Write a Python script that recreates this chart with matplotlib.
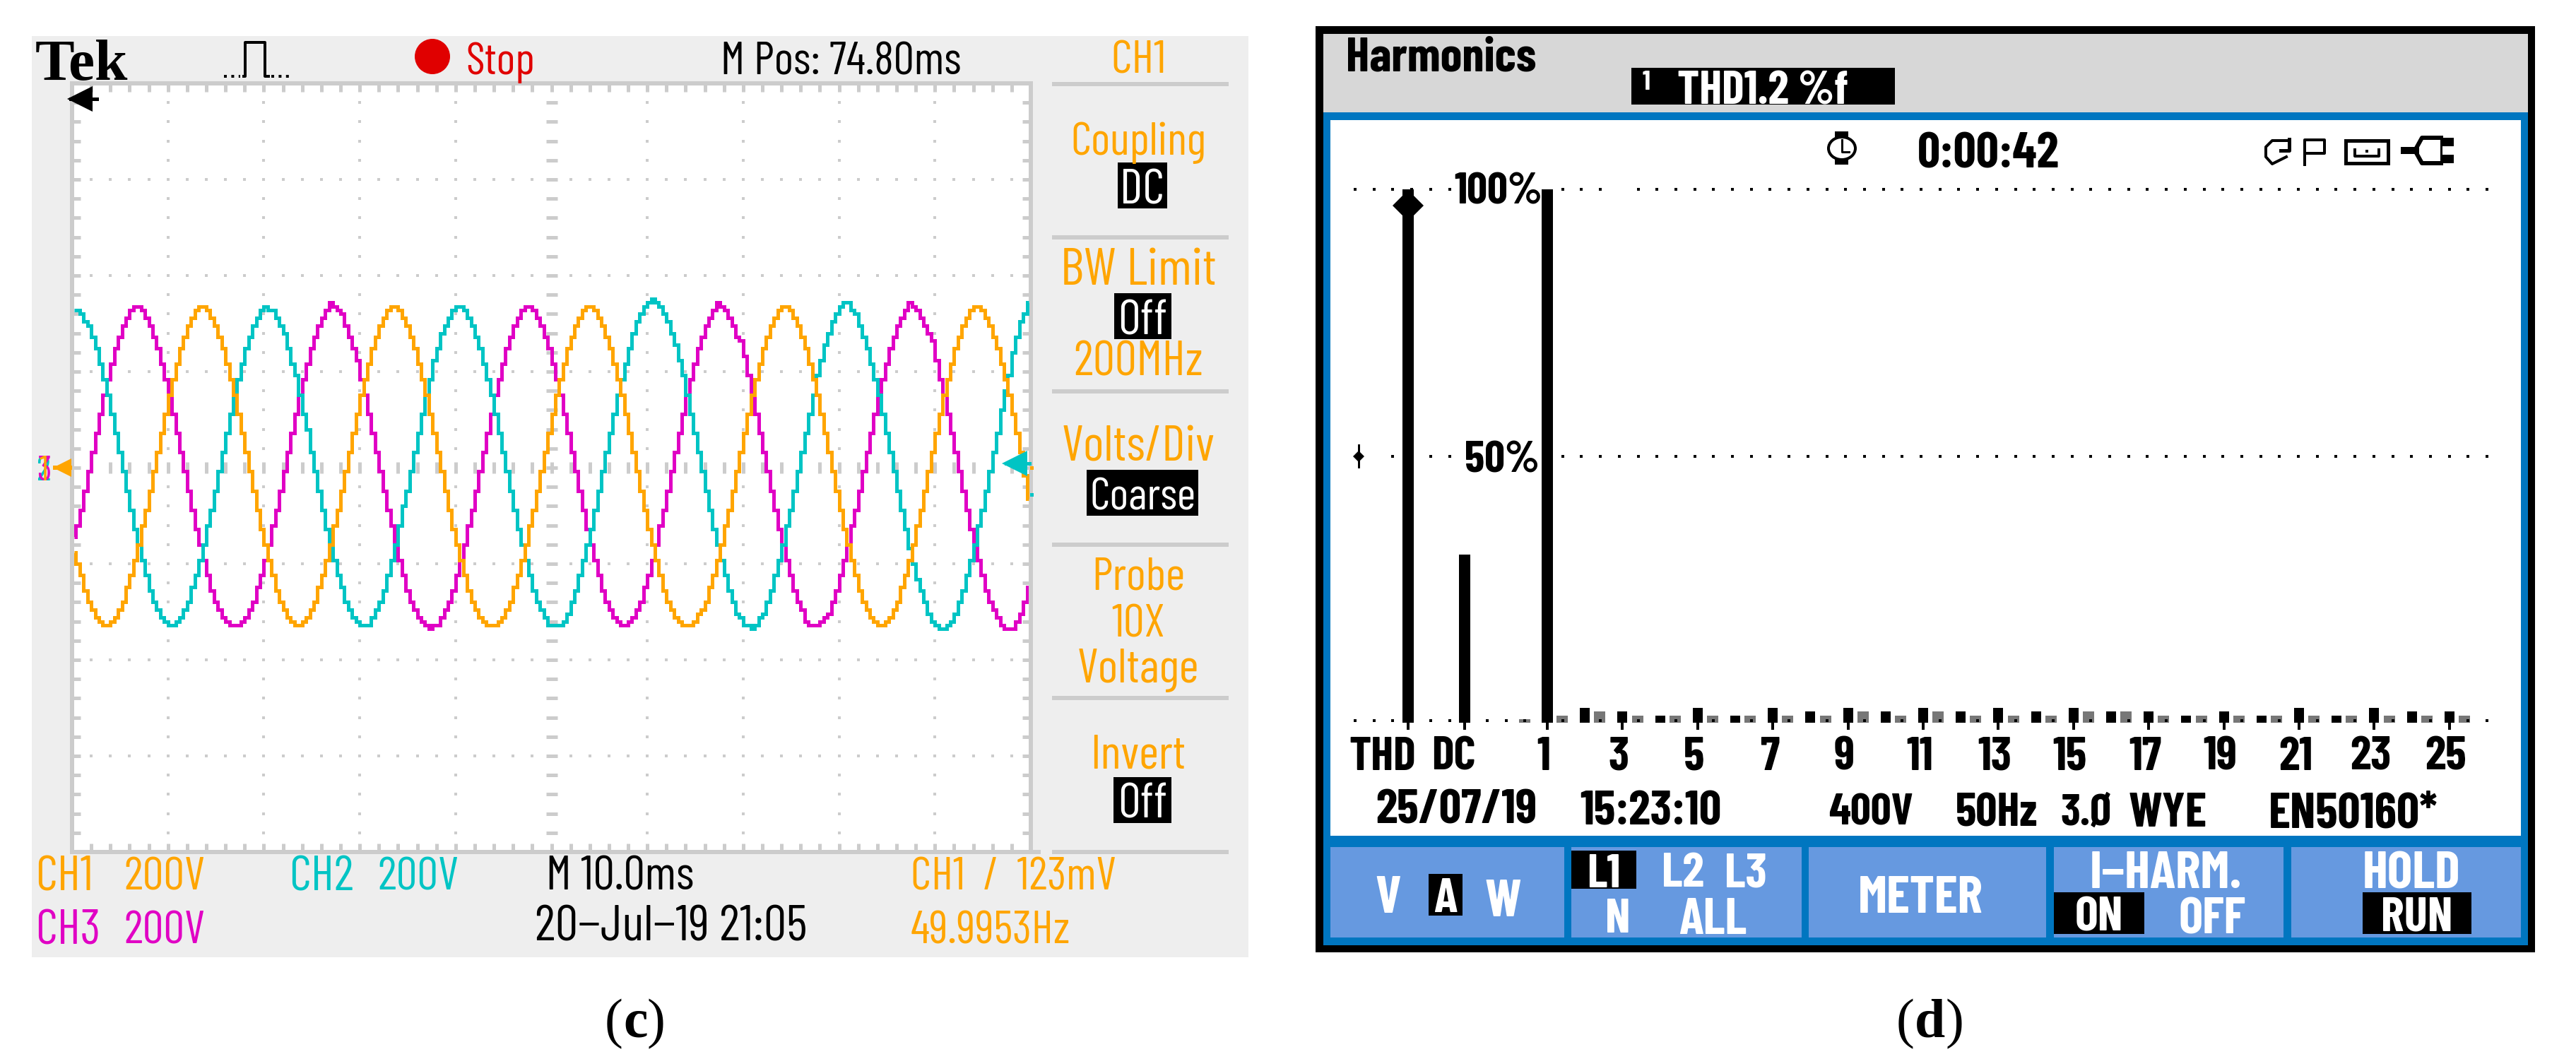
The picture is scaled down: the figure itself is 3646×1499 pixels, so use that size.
import numpy as np
import matplotlib
matplotlib.use("Agg")
import matplotlib.pyplot as plt
from matplotlib.patches import Rectangle, Ellipse
from matplotlib.transforms import ScaledTranslation

# ---------- scope traces: one value per screen column, in screen rows from centre (25 rows = 1 div = 200 V)
CH2_CYAN = [41,41,40,38,37,34,31,27,23,19,14,9,4,-1,-6,-11,-16,-20,-24,-28,-32,-35,-37,-39,-40,-41,-41,-40,-39,-37,-35,-31,-28,-24,-20,-15,-11,-6,-1,4,9,14,19,23,27,31,34,37,39,41,
            42,41,41,39,37,35,31,27,24,19,14,10,4,-1,-6,-11,-16,-20,-24,-28,-31,-35,-37,-39,-40,-41,-41,-41,-39,-37,-35,-32,-28,-24,-20,-15,-10,-6,-1,4,9,14,19,23,28,31,35,37,39,41,
            42,42,41,39,37,34,31,27,23,19,14,9,4,-1,-6,-11,-16,-20,-24,-28,-32,-35,-37,-39,-41,-41,-41,-41,-40,-38,-35,-32,-28,-24,-20,-16,-11,-6,-1,4,9,14,19,23,27,31,35,38,40,42,43,
            44,43,42,40,38,35,32,28,24,19,14,9,4,-1,-6,-11,-16,-20,-24,-28,-32,-35,-38,-39,-41,-41,-42,-41,-39,-38,-35,-32,-28,-24,-20,-15,-11,-6,-1,4,9,14,19,24,28,32,35,38,40,42,
            43,43,41,40,37,34,31,27,23,19,14,9,4,-1,-6,-11,-16,-21,-25,-29,-32,-35,-38,-40,-41,-42,-42,-41,-40,-38,-35,-32,-28,-24,-20,-15,-11,-6,-1,4,9,15,20,24,30,34,38,40,43]
CH3_MAGENTA = [-18,-15,-11,-6,-1,4,9,14,19,23,27,31,34,37,39,41,
               42,42,41,39,37,34,31,27,23,19,14,9,4,-1,-6,-11,-16,-20,-24,-28,-32,-35,-37,-39,-40,-41,-41,-41,-40,-39,-37,-35,-31,-28,-24,-20,-15,-11,-6,-1,4,9,14,19,23,27,31,34,37,39,41,
               43,42,41,40,37,34,31,28,23,19,14,9,4,-1,-6,-11,-15,-20,-24,-28,-32,-35,-37,-39,-40,-41,-42,-41,-41,-39,-37,-35,-32,-28,-24,-20,-15,-11,-6,-1,4,9,14,19,23,27,31,34,37,39,41,
               42,42,41,39,37,34,31,27,23,19,14,9,4,-1,-6,-11,-16,-20,-24,-28,-32,-35,-37,-39,-40,-41,-41,-40,-39,-37,-35,-31,-28,-24,-20,-15,-11,-6,-1,4,9,14,19,23,27,31,34,37,39,41,
               43,42,41,39,37,34,33,29,24,19,14,9,4,-1,-6,-11,-16,-20,-24,-28,-32,-35,-37,-40,-41,-41,-41,-40,-39,-38,-35,-32,-28,-24,-20,-15,-11,-6,-1,4,9,14,19,23,27,31,34,37,39,41,
               43,42,41,39,37,35,33,28,23,19,14,9,4,-1,-6,-11,-16,-20,-24,-28,-32,-35,-37,-39,-41,-42,-42,-42,-40,-38,-35,-31]
CH1_ORANGE = [-22,-25,-28,-32,-35,-37,-39,-40,-41,-41,-40,-39,-37,-35,-31,-28,-24,-20,-15,-11,-6,-1,4,9,14,19,23,27,31,34,37,39,41,
              42,42,41,39,37,34,31,27,23,19,14,9,4,-1,-6,-11,-16,-20,-24,-28,-32,-35,-37,-39,-40,-41,-41,-40,-39,-37,-35,-31,-28,-24,-20,-15,-11,-6,-1,4,9,14,19,23,27,31,34,37,39,41,
              42,42,41,39,37,34,31,27,23,19,14,9,4,-1,-6,-11,-16,-20,-24,-28,-32,-35,-37,-39,-40,-41,-41,-41,-40,-39,-37,-35,-31,-28,-24,-20,-15,-11,-6,-1,4,9,14,19,23,27,31,34,37,39,41,
              42,42,41,39,37,34,31,27,23,19,14,9,4,-1,-6,-11,-16,-20,-24,-28,-32,-35,-37,-39,-40,-41,-41,-41,-40,-38,-37,-35,-31,-28,-24,-20,-15,-11,-6,-1,4,9,14,19,23,27,31,34,37,39,41,
              42,42,41,39,37,34,31,27,23,19,14,9,4,-1,-6,-11,-16,-20,-24,-28,-32,-35,-37,-39,-40,-41,-41,-40,-39,-37,-35,-31,-28,-24,-20,-15,-11,-6,-1,4,9,14,19,23,27,31,34,37,39,41,
              42,42,41,39,37,34,31,27,23,19,14,9,4,-2,-8]

# ---------- harmonics
MAIN_LABELS = ["THD", "DC", "1"]
MAIN_VALUES = [100.0, 31.5, 100.0]
HARM_ORDERS = list(range(2, 26))
HARM_BLACK = [2.8,2.1,1.3,2.8,1.3,2.8,2.1,2.8,2.1,2.8,2.1,2.8,2.1,2.8,2.1,2.1,1.3,2.1,1.3,2.8,1.3,2.8,2.1,2.1]
GRAY_ORDERS = list(range(0, 26))
HARM_GRAY = [0.7,1.3,2.1,1.3,1.3,1.3,1.3,1.3,1.3,2.1,1.3,2.1,1.3,1.3,1.3,2.1,2.1,1.3,1.3,1.3,1.3,1.3,1.3,1.3,1.3,1.3]
TICK_ORDERS = ["THD","DC","1","3","5","7","9","11","13","15","17","19","21","23","25"]

W, H = 3646, 1499
PT = 0.72
ORANGE, CYAN, MAGENTA = "#ffa500", "#00c4c4", "#e000c4"
PANEL, GRID = "#eeeeee", "#cccccc"
BLUE, BTN = "#0076c0", "#6699e0"
NARROW = ["Barlow Condensed", "Archivo Narrow", "Liberation Sans"]

fig = plt.figure(figsize=(W/100, H/100), dpi=100, facecolor="white")


def pixel_axes(z):
    a = fig.add_axes([0, 0, 1, 1], zorder=z)
    a.set_xlim(0, W)
    a.set_ylim(H, 0)
    a.axis("off")
    a.patch.set_alpha(0)
    return a


bg = pixel_axes(0)
fg = pixel_axes(5)


def box(ax, x0, y0, x1, y1, color, **kw):
    ax.add_patch(Rectangle((x0, y0), x1-x0, y1-y0, facecolor=color, edgecolor="none", lw=0, **kw))


def T(x, y, s, color="black", size=47, ha="center", weight="normal", family=NARROW, **kw):
    return fg.text(x, y, s, color=color, fontsize=size, ha=ha, va="center_baseline",
                   fontweight=weight, family=family, **kw)


# ================= panel (c): oscilloscope =================
box(bg, 45, 51, 1767, 1355, PANEL)
sc = fig.add_axes([102/W, 1-1206/H, 1357/W, 1088/H], zorder=1, facecolor="white")
sc.set_xlim(0, 250)
sc.set_ylim(-100, 100)
for s in sc.spines.values():
    s.set_color(GRID)
    s.set_linewidth(6*PT)
sc.set_xticks(np.arange(0, 251, 5))
sc.set_yticks(np.arange(-100, 101, 5))
sc.tick_params(direction="in", top=True, right=True, length=12*PT, width=5*PT, color=GRID,
               labelbottom=False, labelleft=False)

# graticule dots
for gx in np.arange(25, 250, 25):
    if gx == 125:
        continue
    sc.plot(np.full(39, gx), np.arange(-95, 100, 5), ls="", marker="s", ms=5*PT, mew=0, color=GRID, zorder=1)
for gy in np.arange(-75, 100, 25):
    if gy == 0:
        continue
    sc.plot(np.arange(5, 250, 5), np.full(49, gy), ls="", marker="s", ms=5*PT, mew=0, color=GRID, zorder=1)
sc.plot(np.full(39, 125), np.arange(-95, 100, 5), ls="", marker="_", ms=16*PT, mew=5*PT, color=GRID, zorder=1)
sc.plot(np.arange(5, 250, 5), np.zeros(49), ls="", marker="|", ms=16*PT, mew=5*PT, color=GRID, zorder=1)

for trace, col, z in ((CH3_MAGENTA, MAGENTA, 2), (CH2_CYAN, CYAN, 3), (CH1_ORANGE, ORANGE, 4)):
    sc.plot(np.arange(len(trace)) + 0.5, trace, color=col, lw=5*PT, drawstyle="steps-mid",
            solid_joinstyle="miter", solid_capstyle="butt", zorder=z)

box(fg, 1459, 1203, 1473, 1209, GRID)
for y0 in (119, 336, 554, 771, 988, 1206):
    box(fg, 1489, y0-3, 1739, y0+3, GRID)

# header
T(50, 84, "Tek", size=60, ha="left", weight="bold", family=["Liberation Serif"])
fg.plot([317, 340], [108, 108], color="black", lw=4*PT, ls=(0, (1, 1.6)))
fg.plot([345, 347, 347, 372, 375, 375, 380], [108, 108, 60, 60, 60, 108, 108], color="black", lw=4*PT)
fg.plot([384, 415], [108, 108], color="black", lw=4*PT, ls=(0, (1, 1.6)))
fg.add_patch(Ellipse((612, 80), 50, 50, facecolor="#e00000", edgecolor="none"))
T(659, 82, "Stop", color="#e00000", size=46, ha="left")
T(1020, 82, "M Pos: 74.80ms", size=47, ha="left")

# right menu
T(1611, 80, "CH1", ORANGE, size=48)
T(1611, 196, "Coupling", ORANGE, size=47)
T(1611, 377, "BW Limit", ORANGE, size=53)
T(1611, 507, "200MHz", ORANGE, size=50)
T(1611, 627, "Volts/Div", ORANGE, size=51)
T(1611, 811, "Probe", ORANGE, size=48)
T(1611, 878, "10X", ORANGE, size=48)
T(1611, 942, "Voltage", ORANGE, size=49)
T(1611, 1063, "Invert", ORANGE, size=49)
for x0, y0, x1, y1, s, cx, fs in ((1582, 230, 1652, 295, "DC", 1617, 50), (1577, 415, 1658, 480, "Off", 1617, 50),
                                  (1538, 665, 1696, 730, "Coarse", 1617, 46), (1576, 1100, 1658, 1165, "Off", 1617, 50)):
    box(fg, x0, y0, x1, y1, "black")
    T(cx, (y0+y1)/2+1, s, "white", size=fs)

# bottom readouts
T(50, 1236, "CH1", ORANGE, size=50, ha="left")
T(175, 1236, "200V", ORANGE, size=48, ha="left")
T(409, 1236, "CH2", CYAN, size=50, ha="left")
T(534, 1236, "200V", CYAN, size=48, ha="left")
T(773, 1236, "M 10.0ms", size=49, ha="left")
T(50, 1312, "CH3", MAGENTA, size=50, ha="left")
T(175, 1312, "200V", MAGENTA, size=48, ha="left")
T(757, 1306, "20\u2212Jul\u221219 21:05", size=52, ha="left")
T(1289, 1236, "CH1  /  123mV", ORANGE, size=47, ha="left")
T(1289, 1312, "49.9953Hz", ORANGE, size=47, ha="left")

# channel markers
T(62, 662, "2", CYAN, size=36)
T(62, 662, "3", MAGENTA, size=36)
T(62, 662, "1", ORANGE, size=36)
fg.plot([88], [662], marker="<", ms=26*PT, mew=0, color=ORANGE)
fg.plot([78, 99], [662, 662], color=ORANGE, lw=6*PT)
fg.plot([1436], [656], marker="<", ms=36*PT, mew=0, color=CYAN)
fg.plot([1424, 1457], [656, 656], color=CYAN, lw=5*PT)
box(fg, 1458, 660, 1463, 665, ORANGE)
box(fg, 1458, 698, 1463, 703, CYAN)
fg.plot([113], [140], marker="<", ms=36*PT, mew=0, color="black")
fg.plot([100, 137], [140, 140], color="black", lw=5*PT)

# ================= panel (d): harmonics =================
box(bg, 1862, 37, 3588, 1348, "black")
box(bg, 1873, 48, 3578, 159, "#d7d7d7")
box(bg, 1873, 159, 3578, 1338, BLUE)
box(bg, 1883, 170, 3568, 1183, "white")
for x0, x1 in ((1883, 2214), (2224, 2550), (2560, 2896), (2907, 3232), (3243, 3568)):
    box(bg, x0, 1199, x1, 1327, BTN)

X1, PX = 2190.0, 53.2        # harmonic 1 pixel, pixels per harmonic
Y0, PY = 1023.0, 7.55        # 0 % pixel, pixels per %
hm = fig.add_axes([1883/W, 1-1183/H, (3568-1883)/W, (1183-170)/H], zorder=1)
hm.patch.set_alpha(0)
hm.set_xlim((1883-X1)/PX+1, (3568-X1)/PX+1)
hm.set_ylim((Y0-1183)/PY, (Y0-170)/PY)
for s in ("top", "left", "right"):
    hm.spines[s].set_visible(False)
hm.spines["bottom"].set_position(("data", 0))
hm.spines["bottom"].set_color("none")
hm.set_yticks([])

main_pos = [1+(1993-X1)/PX, 1+(2073-X1)/PX, 1.0]
hm.bar(main_pos, MAIN_VALUES, width=0.3, color="black", zorder=3)
hm.bar(HARM_ORDERS, HARM_BLACK, width=0.26, color="black", zorder=3)
hm.bar(np.array(GRAY_ORDERS)+0.4, HARM_GRAY, width=0.3, color="#777777", zorder=2)
hm.plot(main_pos[0], 97, marker="D", ms=31*PT, mew=0, color="black", zorder=4)

tick_pos = main_pos[:2] + [int(t) for t in TICK_ORDERS[2:]]
hm.set_xticks(tick_pos)
hm.set_xticklabels(TICK_ORDERS, fontsize=48, fontweight="bold", family=NARROW)
hm.tick_params(axis="x", direction="out", length=10*PT, width=4*PT, color="black", pad=7)
shift = {"THD": -36, "DC": -16}
for lab in hm.get_xticklabels():
    dx = shift.get(lab.get_text(), -5)
    lab.set_transform(lab.get_transform() + ScaledTranslation(dx/100, 0, fig.dpi_scale_trans))

# dotted reference rows (positions in harmonic units: one dot every half harmonic)
dots = np.arange((1918-X1)/PX+1, (3520-X1)/PX+1, 26.7/PX)
dx_px = (dots-1)*PX+X1
row100 = dots[~(((dx_px > 2060) & (dx_px < 2200)) | ((dx_px > 2285) & (dx_px < 2295)))]
row50 = dots[~(((dx_px > 2060) & (dx_px < 2185)) | (dx_px < 1950))]
hm.plot(row100, np.full(len(row100), 100), ls="", marker="s", ms=4.5*PT, mew=0, color="black", zorder=1)
hm.plot(row50, np.full(len(row50), 50), ls="", marker="s", ms=4.5*PT, mew=0, color="black", zorder=1)
hm.plot(dots, np.full(len(dots), 0.4), ls="", marker="s", ms=4.5*PT, mew=0, color="black", zorder=5)
hm.plot((1923-X1)/PX+1, 50, marker="D", ms=12*PT, mew=0, color="black")
hm.plot([(1923-X1)/PX+1]*2, [48, 52], color="black", lw=3*PT)

T(2121, 266, "100%", size=46, weight="bold")
T(2126, 646, "50%", size=46, weight="bold")

T(1905, 76, "Harmonics", size=50, ha="left", weight="bold")
box(fg, 2309, 96, 2682, 148, "black")
T(2330, 113, "1", "white", size=28, weight="bold")
T(2374, 124, "THD1.2 %f", "white", size=48, ha="left", weight="bold")

# status row with icons
T(2714, 212, "0:00:42", size=51, ha="left", weight="bold")
box(fg, 2597, 186, 2616, 198, "black")
box(fg, 2597, 223, 2616, 233, "black")
fg.add_patch(Ellipse((2607, 210), 38, 32, facecolor="white", edgecolor="black", lw=4*PT))
fg.plot([2607, 2607, 2617], [198, 215, 215], color="black", lw=3*PT)
fg.plot([3236, 3216, 3207, 3207, 3216, 3236], [199, 199, 208, 222, 232, 222], color="black", lw=4*PT)
fg.plot([3228, 3240, 3240], [213, 213, 197], color="black", lw=5*PT)
fg.plot([3262, 3262, 3290, 3290, 3262], [233, 198, 198, 217, 217], color="black", lw=4*PT)
fg.add_patch(Rectangle((3320, 199), 60, 32, facecolor="white", edgecolor="black", lw=5*PT))
fg.plot([3333, 3333, 3367, 3367], [212, 221, 221, 212], color="black", lw=4*PT)
fg.plot([3350], [214], marker="s", ms=5*PT, mew=0, color="black")
box(fg, 3398, 208, 3424, 218, "black")
fg.plot([3455, 3428, 3418, 3428, 3455], [195, 195, 213, 231, 231], color="black", lw=6*PT)
box(fg, 3455, 195, 3473, 207, "black")
box(fg, 3455, 219, 3473, 231, "black")
fg.plot([3455, 3455], [195, 231], color="black", lw=3*PT)

# info line
T(1947, 1141, "25/07/19", size=50, ha="left", weight="bold")
T(2236, 1143, "15:23:10", size=50, ha="left", weight="bold")
T(2588, 1146, "400V", size=46, ha="left", weight="bold")
T(2768, 1146, "50Hz", size=48, ha="left", weight="bold")
T(2917, 1146, "3.\u00d8", size=46, ha="left", weight="bold")
T(3013, 1146, "WYE", size=50, ha="left", weight="bold")
T(3211, 1146, "EN50160*", size=51, ha="left", weight="bold")

# soft keys
box(fg, 2022, 1237, 2070, 1296, "black")
box(fg, 2224, 1204, 2316, 1258, "black")
box(fg, 2907, 1263, 3035, 1322, "black")
box(fg, 3344, 1263, 3498, 1322, "black")
for x, y, s, fs in ((1965, 1266, "V", 54), (2046, 1267, "A", 50), (2127, 1271, "W", 54), (2270, 1232, "L1", 48),
                    (2382, 1231, "L2", 50), (2471, 1231, "L3", 50), (2290, 1296, "N", 50), (2424, 1296, "ALL", 52),
                    (2718, 1266, "METER", 54), (3065, 1231, "I\u2212HARM.", 54), (2971, 1294, "ON", 50),
                    (3131, 1296, "OFF", 52), (3413, 1231, "HOLD", 54), (3421, 1294, "RUN", 50)):
    T(x, y, s, "white", size=fs, weight="bold")

# captions
SERIF = ["Liberation Serif"]
fg.text(856, 1441, "(", fontsize=56, family=SERIF, ha="left", va="center_baseline")
fg.text(882, 1441, "c", fontsize=56, family=SERIF, fontweight="bold", ha="left", va="center_baseline")
fg.text(916, 1441, ")", fontsize=56, family=SERIF, ha="left", va="center_baseline")
fg.text(2684, 1441, "(", fontsize=56, family=SERIF, ha="left", va="center_baseline")
fg.text(2710, 1441, "d", fontsize=56, family=SERIF, fontweight="bold", ha="left", va="center_baseline")
fg.text(2753, 1441, ")", fontsize=56, family=SERIF, ha="left", va="center_baseline")

fig.savefig("out.png", dpi=100, facecolor="white")
